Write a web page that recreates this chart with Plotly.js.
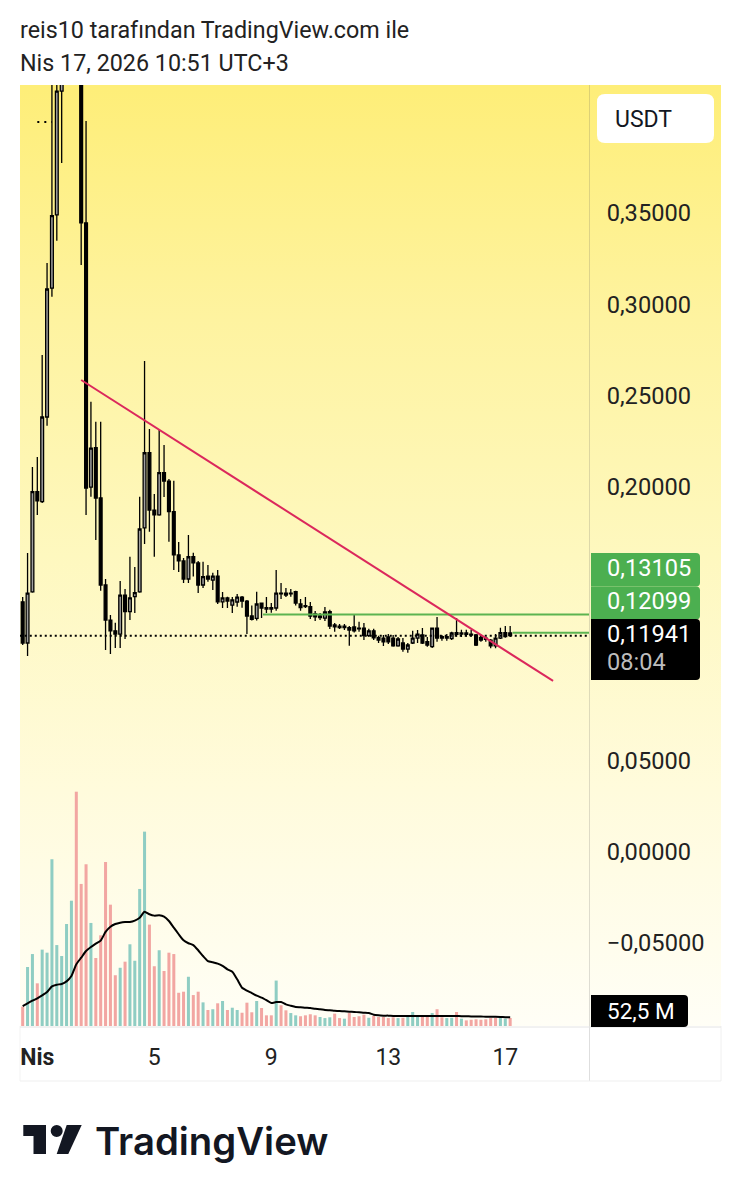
<!DOCTYPE html>
<html>
<head>
<meta charset="utf-8">
<script src="https://cdn.plot.ly/plotly-3.0.1.min.js"></script>
<style>
html,body{margin:0;padding:0;background:#fff;overflow:hidden;width:741px;height:1199px}
#bg{position:absolute;left:20px;top:85px;width:701px;height:941px;background:linear-gradient(180deg,#FEEE78 0%,#FEF3A0 25%,#FEF8BF 50%,#FFFBDC 75%,#FFFEF6 100%)}
#chart{position:absolute;left:0;top:0;width:741px;height:1199px}
</style>
</head>
<body>
<div id="bg"></div>
<div id="chart"></div>
<script>
const openPrice=[.1380,.1154,.1434,.1984,.1929,.2393,.3100,.3501,.4180,.45,
.49,.52,.46,.3457,.2009,.2225,.1949,.1472,.1280,.1221,
.1203,.1417,.1326,.1408,.1434,.1785,.2197,.1883,.1856,.2088,
.2042,.1874,.1637,.1604,.1505,.1627,.1593,.1472,.1521,.1499,
.1521,.1380,.1401,.1362,.1379,.1406,.1384,.1302,.1289,.1373,
.1348,.1348,.1346,.1428,.1428,.1423,.1435,.1368,.1353,.1353,
.1313,.1293,.1291,.1326,.1253,.1247,.1238,.1238,.1242,.1236,
.1236,.1194,.1221,.1183,.1181,.1187,.1181,.1138,.1154,.1121,
.1154,.1181,.1198,.1161,.1134,.1236,.1189,.1181,.1178,.1211,
.1203,.1209,.1203,.1198,.1183,.1180,.1170,.1138,.1181,.1211,
.1209];
const highPrice=[.1406,.1647,.2119,.2174,.2733,.3237,.4300,.4450,.4700,.50,
.53,.54,.48,.4016,.2477,.2367,.2367,.1505,.1308,.1265,
.1494,.1450,.1627,.1571,.1956,.2700,.2327,.1971,.2322,.2240,
.2053,.2044,.1708,.1620,.1746,.1649,.1604,.1600,.1582,.1539,
.1554,.1434,.1408,.1406,.1423,.1412,.1390,.1359,.1435,.1375,
.1406,.1373,.1554,.1483,.1456,.1450,.1441,.1395,.1406,.1379,
.1330,.1319,.1351,.1337,.1264,.1258,.1258,.1247,.1313,.1271,
.1264,.1232,.1232,.1194,.1198,.1203,.1198,.1187,.1181,.1154,
.1221,.1225,.1236,.1187,.1236,.1297,.1198,.1203,.1216,.1291,
.1227,.1227,.1227,.1203,.1194,.1189,.1176,.1203,.1238,.1247,
.1247];
const lowPrice=[.1143,.1083,.1430,.1856,.1922,.2345,.3053,.3360,.3786,.44,
.47,.44,.3226,.1856,.1956,.1719,.1441,.1116,.1094,.1127,
.1127,.1176,.1280,.1319,.1430,.1697,.1764,.1627,.1852,.1955,
.1709,.1554,.1543,.1483,.1483,.1518,.1428,.1456,.1490,.1445,
.1368,.1346,.1346,.1319,.1353,.1348,.1203,.1278,.1278,.1291,
.1319,.1320,.1331,.1395,.1406,.1408,.1359,.1331,.1346,.1286,
.1275,.1280,.1275,.1231,.1216,.1231,.1225,.1139,.1211,.1216,
.1170,.1187,.1170,.1154,.1138,.1149,.1134,.1134,.1106,.1101,
.1149,.1154,.1149,.1134,.1127,.1161,.1167,.1167,.1170,.1189,
.1187,.1189,.1189,.1138,.1161,.1161,.1125,.1125,.1176,.1183,
.1187];
const closePrice=[.1154,.1428,.1984,.1934,.2393,.3095,.3497,.4180,.4500,.49,
.52,.46,.3457,.2004,.2223,.1949,.1472,.1280,.1221,.1203,
.1417,.1326,.1401,.1430,.1779,.2197,.1883,.1856,.2088,.2042,
.1874,.1637,.1604,.1505,.1627,.1593,.1472,.1518,.1505,.1521,
.1380,.1401,.1384,.1390,.1406,.1384,.1302,.1284,.1368,.1346,
.1340,.1340,.1428,.1423,.1417,.1428,.1373,.1348,.1359,.1302,
.1297,.1302,.1324,.1247,.1242,.1239,.1247,.1225,.1221,.1231,
.1194,.1221,.1183,.1170,.1161,.1161,.1138,.1176,.1121,.1143,
.1181,.1203,.1154,.1143,.1236,.1181,.1181,.1189,.1209,.1202,
.1209,.1201,.1198,.1143,.1170,.1174,.1138,.1181,.1211,.1189,
.11941];
const volumeMillions=[127,387,472,280,501,481,1094,531,459,669,
822,1537,932,1061,676,446,595,1076,796,333,
382,422,536,428,899,1275,665,392,497,361,
481,472,218,225,323,203,225,155,105,110,
149,164,105,120,105,87,153,90,164,118,
70,70,298,136,103,85,70,64,70,77,
70,59,52,57,81,52,48,85,59,64,
74,54,66,59,59,52,57,52,54,66,
92,66,70,66,85,110,57,52,54,92,
48,37,41,44,41,44,52,54,54,48,
52.5];
const volumeDirection=("duudu"+"uuuuuu"+"ddd"+"u"+"ddddd"+"u"+"d"+"uuuu"+"dd"+"u"+"ddddd"+"u"+"dd"+"u"+"d"+"u"+"d"+"u"+"d"+"uu"+"ddd"+"u"+"ddd"+"u"+"dd"+"uu"+"dddd"+"uuu"+"dd"+"u"+"dddd"+"u"+"ddddd"+"u"+"d"+"uuu"+"dd"+"u"+"dd"+"uu"+"d"+"u"+"ddddddd"+"uu"+"dd").split("");
const volumeAverage=[131,149,166,182,201,223,260,271,276,293,
328,405,448,492,518,540,560,617,651,669,
678,682,682,691,710,750,733,724,726,717,
689,645,602,562,543,531,497,459,426,418,
409,394,372,356,306,251,232,216,199,186,
169,151,157,157,142,133,125,123,120,118,
113,110,105,103,100,98,96,94,92,90,
87,85,74,70,68,68,66,66,66,66,
66,66,66,66,66,66,66,66,66,66,
64,64,63,63,62,61,60,60,59,58,
57];
const dayTickIndex=[3,27,51,75,99];
const dayTickLabels=['<b>Nis</b>','5','9','13','17'];
const priceTicks=[-0.05,0,0.05,0.2,0.25,0.3,0.35];
const priceTickLabels=['\u22120,05000','0,00000','0,05000','0,20000','0,25000','0,30000','0,35000'];
const trendIndex=[12,108.8];
const trendPrice=[.2596,.0946];
const upperLevelIndex=[49.3,116.2];
const upperLevelPrice=[.13105,.13105];
const lowerLevelIndex=[100.5,116.2];
const lowerLevelPrice=[.12099,.12099];
const lastPriceIndex=[-0.6,116.2];
const lastPrice=[.11941,.11941];
const markerIndex=[3,6];
const markerPrice=[.4011,.4011];

const candleIndex=openPrice.map((_,i)=>i);
const W=741,H=1199,L=20,R=589,T=85,B=1026;
const px=x=>(x-L)/(R-L), py=y=>(B-y)/(B-T);
const TEAL='#8FCDC3',RED='#F2A6A2';
function roundRect(x0,y0,x1,y1,rl,rr,fill){
  const X=px,Y=py;
  const d=`M ${X(x0+rl)} ${Y(y0)} L ${X(x1-rr)} ${Y(y0)} Q ${X(x1)} ${Y(y0)} ${X(x1)} ${Y(y0+rr)} L ${X(x1)} ${Y(y1-rr)} Q ${X(x1)} ${Y(y1)} ${X(x1-rr)} ${Y(y1)} L ${X(x0+rl)} ${Y(y1)} Q ${X(x0)} ${Y(y1)} ${X(x0)} ${Y(y1-rl)} L ${X(x0)} ${Y(y0+rl)} Q ${X(x0)} ${Y(y0)} ${X(x0+rl)} ${Y(y0)} Z`;
  return {type:'path',xref:'paper',yref:'paper',path:d,fillcolor:fill,line:{width:0},layer:'above'};
}
function hline(x0,x1,y,c){return {type:'line',xref:'paper',yref:'paper',x0:px(x0),x1:px(x1),y0:py(y),y1:py(y),line:{color:c,width:1},layer:'above'};}
function vline(x,y0,y1,c){return {type:'line',xref:'paper',yref:'paper',x0:px(x),x1:px(x),y0:py(y0),y1:py(y1),line:{color:c,width:1},layer:'above'};}
function label(text,x,y,size,color,extra){
  return Object.assign({text,xref:'paper',yref:'paper',x:px(x),y:py(y),xanchor:'left',yanchor:'middle',showarrow:false,
    font:{family:'Roboto',size,color}},extra||{});
}
function poly(points,fill){
  const d=points.map((p,i)=>(i?'L ':'M ')+px(p[0])+' '+py(p[1])).join(' ')+' Z';
  return {type:'path',xref:'paper',yref:'paper',path:d,fillcolor:fill,line:{width:0},layer:'above'};
}
const INK='#131722';
const shapes=[
  vline(20,1026,1081,'#F3F3F3'),vline(721,1026,1081,'#F0F0F0'),
  vline(589.5,85,1081,'rgba(90,90,90,0.2)'),
  hline(20,721,1027,'#E4E4E4'),hline(20,721,1081,'#EFEFEF'),
  roundRect(597,94,714,143,8,8,'#FFFFFF'),
  roundRect(591,553,700,586.5,0,4,'#4CAF50'),
  roundRect(591,586.5,700,619.5,0,4,'#4CAF50'),
  roundRect(591,619,700,680,0,4,'#000000'),
  roundRect(591,995,688,1027,0,4,'#000000'),
  poly([[23.3,1125],[46,1125],[46,1154],[33.5,1154],[33.5,1136],[23.3,1136]],INK),
  poly([[66.7,1125],[81.7,1125],[68.3,1154],[56.7,1154]],INK),
  {type:'circle',xref:'paper',yref:'paper',x0:px(50.7),x1:px(62.7),y0:py(1125),y1:py(1137),fillcolor:INK,line:{width:0},layer:'above'}
];
const annotations=[
  label('reis10 tarafından TradingView.com ile',18,30,23.3,'#222222'),
  label('Nis 17, 2026 10:51 UTC+3',18,63,23.3,'#222222'),
  label('USDT',613,119,23,'#131722'),
  label('0,13105',605,568,23.6,'#FFFFFF'),
  label('0,12099',605,601,23.6,'#FFFFFF'),
  label('0,11941',605,634,23.6,'#FFFFFF'),
  label('08:04',605,662,23.6,'#BDBDBD'),
  label('52,5 M',605,1011,22.5,'#FFFFFF'),
  label('TradingView',93,1141,38.3,INK,{font:{family:'Inter',size:38.3,color:INK,weight:600}})
];
const traces=[
  {type:'bar',x:candleIndex,y:volumeMillions,yaxis:'y2',width:0.62,
   marker:{color:volumeDirection.map(d=>d==='u'?TEAL:RED),line:{width:0}},hoverinfo:'skip'},
  {type:'scatter',mode:'lines',x:lastPriceIndex,y:lastPrice,line:{color:'#000',width:2,dash:'2px 3px'},hoverinfo:'skip'},
  {type:'scatter',mode:'lines',x:markerIndex,y:markerPrice,line:{color:'#000',width:2,dash:'2px 5px'},hoverinfo:'skip'},
  {type:'scatter',mode:'lines',x:upperLevelIndex,y:upperLevelPrice,line:{color:'#5CB450',width:2},hoverinfo:'skip'},
  {type:'scatter',mode:'lines',x:lowerLevelIndex,y:lowerLevelPrice,line:{color:'#5CB450',width:2},hoverinfo:'skip'},
  {type:'candlestick',x:candleIndex,open:openPrice,high:highPrice,low:lowPrice,close:closePrice,whiskerwidth:0,
   increasing:{line:{color:'#000',width:1.3},fillcolor:'#A0A0A0'},
   decreasing:{line:{color:'#000',width:1.3},fillcolor:'#000'},hoverinfo:'skip'},
  {type:'scatter',mode:'lines',x:trendIndex,y:trendPrice,line:{color:'#DB285C',width:2},hoverinfo:'skip'},
  {type:'scatter',mode:'lines',x:candleIndex,y:volumeAverage,yaxis:'y2',line:{color:'#000',width:2,shape:'spline',smoothing:0.5},hoverinfo:'skip'}
];
const tickFont={family:'Roboto',size:23,color:'#222222'};
const layout={
  width:W,height:H,showlegend:false,paper_bgcolor:'rgba(0,0,0,0)',plot_bgcolor:'rgba(0,0,0,0)',
  margin:{l:L,r:W-R,t:T,b:H-B,pad:0},bargap:0.38,boxgap:0.18,
  xaxis:{range:[-0.55,116.17],rangeslider:{visible:false},tickmode:'array',tickvals:dayTickIndex,ticktext:dayTickLabels,
    showgrid:false,zeroline:false,showline:false,ticks:'outside',ticklen:10,tickcolor:'rgba(0,0,0,0)',tickfont:tickFont},
  yaxis:{range:[-0.09457,0.42133],side:'right',tickmode:'array',tickvals:priceTicks,ticktext:priceTickLabels,ticklabelshift:-2,
    showgrid:false,zeroline:false,showline:false,ticks:'outside',ticklen:12,tickcolor:'rgba(0,0,0,0)',tickfont:Object.assign({},tickFont,{size:23.6})},
  yaxis2:{range:[0,6173],overlaying:'y',visible:false,showgrid:false,zeroline:false},
  shapes,annotations
};
Plotly.newPlot('chart',traces,layout,{displayModeBar:false,staticPlot:true});
</script>
</body>
</html>
